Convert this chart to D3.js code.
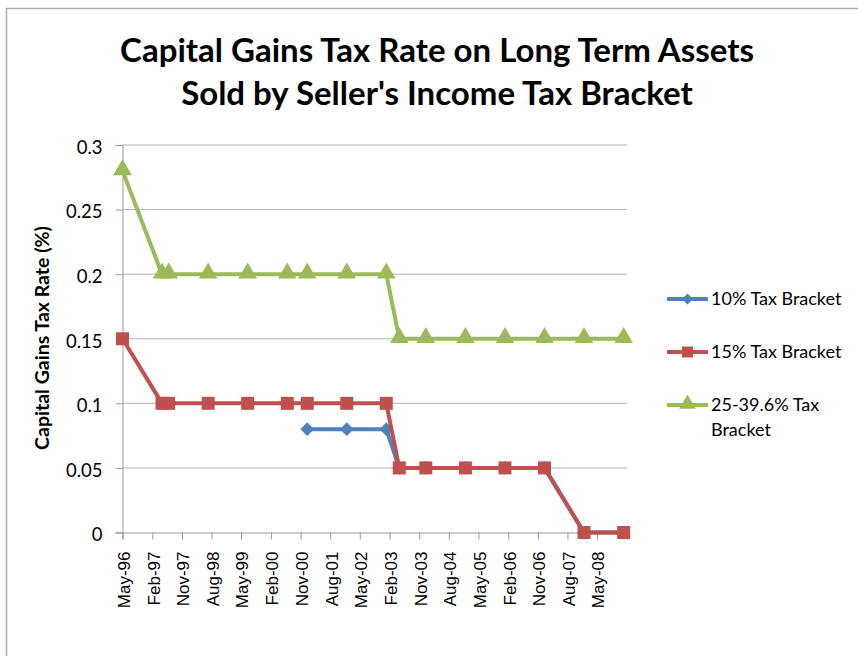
<!DOCTYPE html>
<html>
<head>
<meta charset="utf-8">
<script src="https://cdn.jsdelivr.net/npm/d3@7"></script>
<style>
  html, body { margin: 0; padding: 0; background: #fff; }
  svg { display: block; }
</style>
</head>
<body>
<svg id="chart" width="858" height="656"></svg>
<script>
// ---- data ----
const chartTitle = ["Capital Gains Tax Rate on Long Term Assets", "Sold by Seller's Income Tax Bracket"];
const yAxisTitle = "Capital Gains Tax Rate (%)";
const dates = ["1996-05","1997-05","1997-07","1998-07","1999-07","2000-07","2001-01","2002-01",
               "2003-01","2003-05","2004-01","2005-01","2006-01","2007-01","2008-01","2009-01"];
const seriesNames = ["10% Tax Bracket", "15% Tax Bracket", "25-39.6% Tax Bracket"];
const bracket10 = [null,null,null,null,null,null,0.08,0.08,0.08,0.05,0.05,0.05,0.05,0.05,0,0];
const bracket15 = [0.15,0.10,0.10,0.10,0.10,0.10,0.10,0.10,0.10,0.05,0.05,0.05,0.05,0.05,0,0];
const bracket25 = [0.28,0.20,0.20,0.20,0.20,0.20,0.20,0.20,0.20,0.15,0.15,0.15,0.15,0.15,0.15,0.15];
const xTickLabels = ["May-96","Feb-97","Nov-97","Aug-98","May-99","Feb-00","Nov-00","Aug-01","May-02",
                     "Feb-03","Nov-03","Aug-04","May-05","Feb-06","Nov-06","Aug-07","May-08"];
const xAxisEnd = "Feb-09";
const yTicks = [0, 0.05, 0.1, 0.15, 0.2, 0.25, 0.3];

// ---- setup ----
const svg = d3.select("#chart");
const parseD = d3.timeParse("%Y-%m");
const parseT = d3.timeParse("%b-%y");
const colors = ["#4F81BD", "#C0504D", "#9BBB59"];
const symbols = [d3.symbolDiamond2, d3.symbolSquare, d3.symbolTriangle];
const markerSizes = [120, 169, 150];
const legendMarkerSizes = [80, 120, 120];
const calib = "Lato, 'Open Sans', sans-serif";

// outer frame
svg.append("rect").attr("x", 6.5).attr("y", 8.5).attr("width", 900).attr("height", 700)
  .attr("fill", "none").attr("stroke", "#ababab").attr("stroke-width", 1.5);

const plot = {left: 122.5, right: 627, top: 145, bottom: 532.5};
const tickDates = xTickLabels.map(parseT);
const x = d3.scaleTime()
  .domain([tickDates[0], parseT(xAxisEnd)])
  .range([plot.left, plot.right]);
const y = d3.scaleLinear().domain([0, 0.3]).range([plot.bottom, plot.top]);

// gridlines
svg.append("g").selectAll("line").data(yTicks.filter(d => d > 0)).join("line")
  .attr("x1", plot.left).attr("x2", plot.right)
  .attr("y1", d => y(d)).attr("y2", d => y(d))
  .attr("stroke", "#b3b3b3").attr("stroke-width", 1);

// y axis
const yAxis = svg.append("g").attr("transform", `translate(${plot.left},0)`)
  .call(d3.axisLeft(y).tickValues(yTicks).tickSize(7).tickPadding(13).tickFormat(d => String(+d.toFixed(2))));
yAxis.select(".domain").attr("stroke", "#999").attr("stroke-width", 1);
yAxis.selectAll(".tick line").attr("stroke", "#999");
yAxis.selectAll(".tick text").attr("font-family", calib).attr("font-size", 18.5).attr("fill", "#000")
  .attr("dy", "0.45em");

// x axis
const xAxis = svg.append("g").attr("transform", `translate(0,${plot.bottom})`)
  .call(d3.axisBottom(x).tickValues(tickDates.concat([parseT(xAxisEnd)])).tickSize(7)
        .tickFormat((d, i) => i < xTickLabels.length ? xTickLabels[i] : ""));
xAxis.select(".domain").attr("stroke", "#999").attr("stroke-width", 1);
xAxis.selectAll(".tick line").attr("stroke", "#999");
xAxis.selectAll(".tick text")
  .attr("font-family", "'Liberation Sans', Arial, sans-serif").attr("font-size", 17).attr("fill", "#000")
  .attr("text-anchor", "end")
  .attr("transform", "rotate(-90)")
  .attr("x", -19).attr("y", 0).attr("dy", "0.4em");

// series
const allSeries = [bracket10, bracket15, bracket25];
allSeries.forEach((vals, si) => {
  const pts = dates.map((d, i) => ({date: parseD(d), v: vals[i]}));
  const line = d3.line().defined(p => p.v !== null).x(p => x(p.date)).y(p => y(p.v));
  svg.append("path").datum(pts).attr("d", line)
    .attr("fill", "none").attr("stroke", colors[si]).attr("stroke-width", 4)
    .attr("stroke-linejoin", "round");
  svg.append("g").selectAll("path").data(pts.filter(p => p.v !== null)).join("path")
    .attr("transform", p => `translate(${x(p.date)},${y(p.v) + (si === 2 ? -1 : 0)})`)
    .attr("d", d3.symbol().type(symbols[si]).size(markerSizes[si]))
    .attr("fill", colors[si]);
});

// title
svg.append("g").selectAll("text").data(chartTitle).join("text")
  .attr("x", 437).attr("y", (d, i) => 62 + i * 43)
  .attr("text-anchor", "middle")
  .attr("font-family", calib).attr("font-weight", "bold").attr("font-size", 33)
  .attr("fill", "#000").text(d => d);

// y axis title
svg.append("text")
  .attr("transform", "translate(49,338) rotate(-90)")
  .attr("text-anchor", "middle")
  .attr("font-family", calib).attr("font-weight", "bold").attr("font-size", 19.5)
  .attr("fill", "#000").text(yAxisTitle);

// legend
const legendLines = [["10% Tax Bracket"], ["15% Tax Bracket"], ["25-39.6% Tax", "Bracket"]];
const legendY = [299, 352, 405];
const lg = svg.append("g");
seriesNames.forEach((name, i) => {
  const g = lg.append("g").attr("transform", `translate(0,${legendY[i]})`);
  g.append("line").attr("x1", 667).attr("x2", 708).attr("y1", 0).attr("y2", 0)
    .attr("stroke", colors[i]).attr("stroke-width", 4);
  g.append("path").attr("transform", `translate(687.5,${i === 2 ? -1 : 0})`)
    .attr("d", d3.symbol().type(symbols[i]).size(legendMarkerSizes[i])).attr("fill", colors[i]);
  g.append("text").attr("x", 711).attr("y", 6)
    .attr("font-family", calib).attr("font-size", 18).attr("fill", "#000")
    .selectAll("tspan").data(legendLines[i]).join("tspan")
    .attr("x", 711).attr("dy", (d, j) => j === 0 ? 0 : 25).text(d => d);
});
</script>
</body>
</html>
